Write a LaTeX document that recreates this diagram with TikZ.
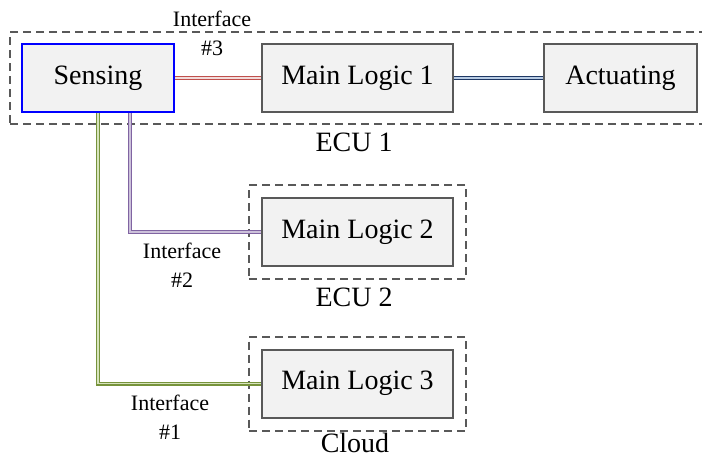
\documentclass[tikz,border=0pt]{standalone}
\usepackage{fontspec}
\setmainfont{Liberation Serif}
\newfontfamily\timesfont{Liberation Serif}
\usetikzlibrary{fit}
\definecolor{boxfill}{RGB}{242,242,242}
\definecolor{boxline}{RGB}{89,89,89}
\definecolor{redout}{RGB}{192,80,77}
\definecolor{redin}{RGB}{242,220,219}
\definecolor{blueout}{RGB}{31,56,100}
\definecolor{bluein}{RGB}{184,204,228}
\definecolor{greenout}{RGB}{119,147,60}
\definecolor{greenin}{RGB}{215,228,189}
\definecolor{purpleout}{RGB}{128,100,162}
\definecolor{purplein}{RGB}{204,193,218}
\begin{document}
\begin{tikzpicture}[x=1pt,y=-1pt,
  unit/.style={draw=boxline,fill=boxfill,line width=2pt,inner sep=0pt,minimum width=191pt,minimum height=68pt,font=\timesfont\fontsize{28}{30}\selectfont},
  group/.style={draw=boxline,dash pattern=on 8pt off 5pt,line width=2pt},
  grouplabel/.style={font=\timesfont\fontsize{28}{30}\selectfont},
  iflabel/.style={align=center,font=\timesfont\fontsize{22}{29}\selectfont},
  link/.style={line width=1.2pt,double distance=1.6pt}]
\useasboundingbox (0,0) rectangle (702,458);
\clip (0,0) rectangle (702,458);
% units
\node[unit,draw=blue,minimum width=152pt] (Sensing) at (98,78) {Sensing};
\node[unit] (ML1) at (357.5,78) {Main Logic 1};
\node[unit,minimum width=153pt] (Act) at (620.5,78) {Actuating};
\node[unit] (ML2) at (357.5,232) {Main Logic 2};
\node[unit] (ML3) at (357.5,383.5) {Main Logic 3};
% groups
\node[group,fit=(Sensing)(Act),inner sep=11pt] (ECU1) {};
\node[group,fit=(ML2),inner sep=12pt] (ECU2) {};
\node[group,fit=(ML3),inner sep=12pt] (Cloud) {};
\node[grouplabel] (ECU1label) at (354,142) {ECU 1};
\node[grouplabel] (ECU2label) at (354,297) {ECU 2};
\node[grouplabel] (Cloudlabel) at (355,443) {Cloud};
% interfaces
\coordinate (s2) at ([xshift=32pt]Sensing.south);
\draw[link,draw=redout,double=redin] (Sensing.east) -- (ML1.west);
\draw[link,draw=blueout,double=bluein] (ML1.east) -- (Act.west);
\draw[link,draw=purpleout,double=purplein] (s2) |- (ML2.west);
\draw[link,draw=greenout,double=greenin] (Sensing.south) |- (ML3.west);
\node[iflabel] (if3) at (212,33) {Interface\\\#3};
\node[iflabel] (if2) at (182,265) {Interface\\\#2};
\node[iflabel] (if1) at (170,417) {Interface\\\#1};
\end{tikzpicture}
\end{document}
